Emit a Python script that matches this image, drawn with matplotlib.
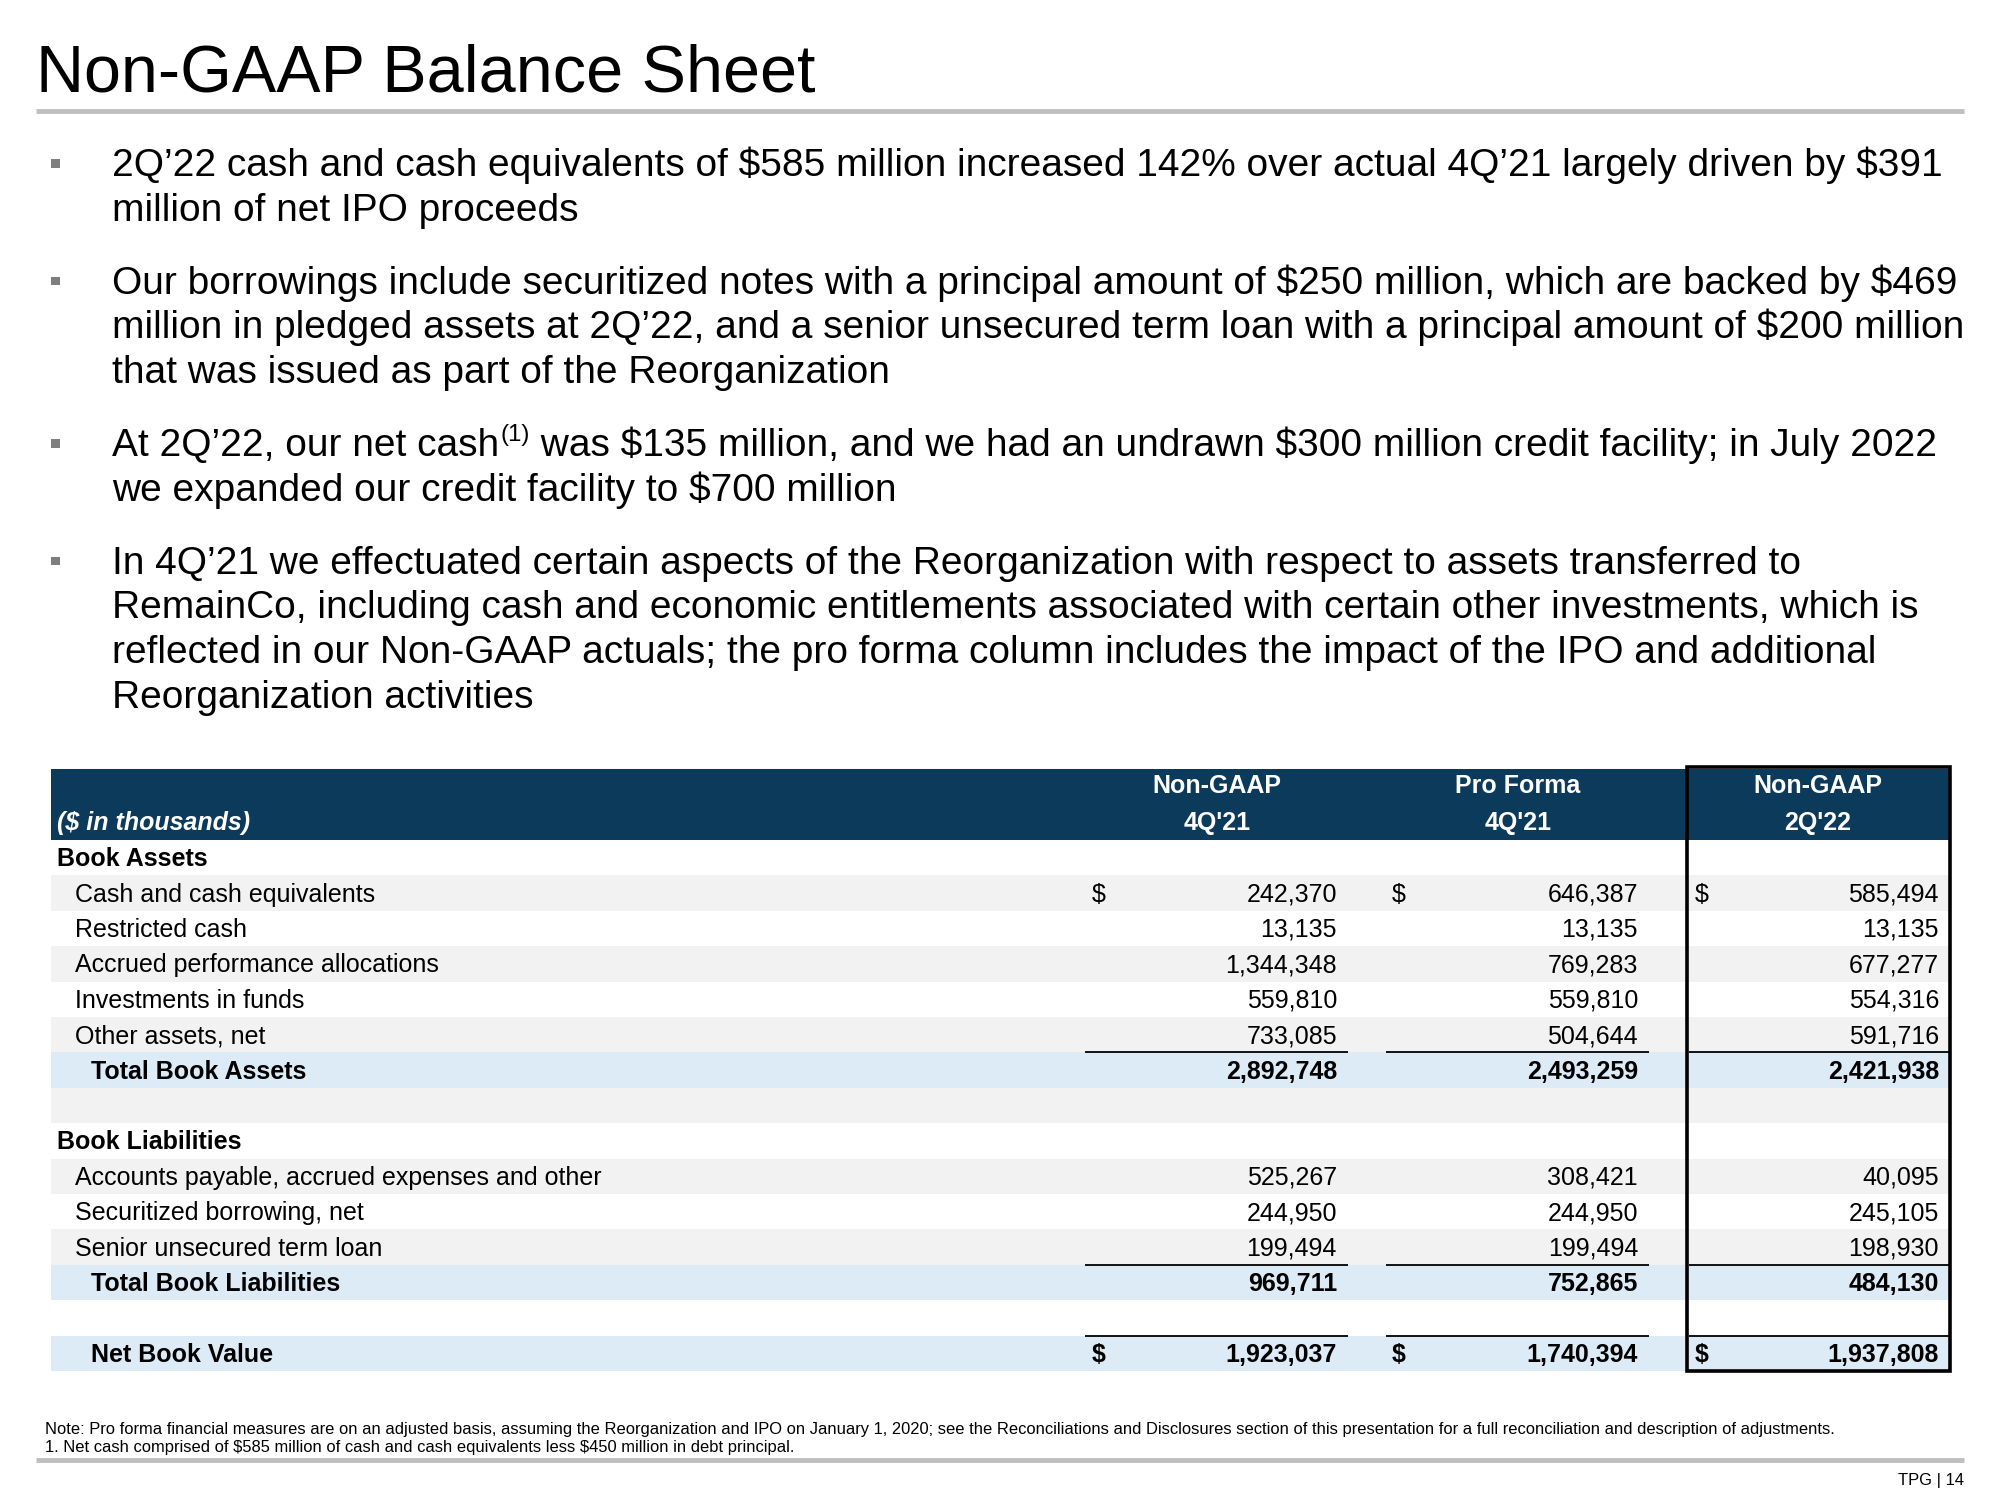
import matplotlib
matplotlib.use("Agg")
import matplotlib.pyplot as plt
from matplotlib.patches import Rectangle

plt.rcParams['font.family'] = ['Liberation Sans', 'DejaVu Sans']
plt.rcParams['text.parse_math'] = False

# ---------------- data ----------------
title = "Non-GAAP Balance Sheet"
bullets = [
    ["2Q\u201922 cash and cash equivalents of $585 million increased 142% over actual 4Q\u201921 largely driven by $391",
     "million of net IPO proceeds"],
    ["Our borrowings include securitized notes with a principal amount of $250 million, which are backed by $469",
     "million in pledged assets at 2Q\u201922, and a senior unsecured term loan with a principal amount of $200 million",
     "that was issued as part of the Reorganization"],
    ["At 2Q\u201922, our net cash|(1)| was $135 million, and we had an undrawn $300 million credit facility; in July 2022",
     "we expanded our credit facility to $700 million"],
    ["In 4Q\u201921 we effectuated certain aspects of the Reorganization with respect to assets transferred to",
     "RemainCo, including cash and economic entitlements associated with certain other investments, which is",
     "reflected in our Non-GAAP actuals; the pro forma column includes the impact of the IPO and additional",
     "Reorganization activities"],
]
col_headers = [("Non-GAAP", "4Q'21"), ("Pro Forma", "4Q'21"), ("Non-GAAP", "2Q'22")]
units_label = "($ in thousands)"
row_labels = ["Book Assets", "Cash and cash equivalents", "Restricted cash",
              "Accrued performance allocations", "Investments in funds", "Other assets, net",
              "Total Book Assets", "", "Book Liabilities",
              "Accounts payable, accrued expenses and other", "Securitized borrowing, net",
              "Senior unsecured term loan", "Total Book Liabilities", "", "Net Book Value"]
row_kinds = ["section", "item", "item", "item", "item", "item", "total", "blank",
             "section", "item", "item", "item", "total", "blank", "total"]
nongaap_4q21 = [None, 242370, 13135, 1344348, 559810, 733085, 2892748, None,
                None, 525267, 244950, 199494, 969711, None, 1923037]
proforma_4q21 = [None, 646387, 13135, 769283, 559810, 504644, 2493259, None,
                 None, 308421, 244950, 199494, 752865, None, 1740394]
nongaap_2q22 = [None, 585494, 13135, 677277, 554316, 591716, 2421938, None,
                None, 40095, 245105, 198930, 484130, None, 1937808]
dollar_rows = ["Cash and cash equivalents", "Net Book Value"]
note_lines = [
    "Note: Pro forma financial measures are on an adjusted basis, assuming the Reorganization and IPO on January 1, 2020; see the Reconciliations and Disclosures section of this presentation for a full reconciliation and description of adjustments.",
    "1. Net cash comprised of $585 million of cash and cash equivalents less $450 million in debt principal.",
]
page_label = "TPG | 14"

# ---------------- style ----------------
NAVY = "#0C3A5B"
GRAY_ROW = "#F2F2F2"
BLUE_ROW = "#DDEBF7"
RULE = "#BFBFBF"
# background band of each table row (white / gray / blue)
row_fills = ["white", GRAY_ROW, "white", GRAY_ROW, "white", GRAY_ROW, BLUE_ROW, GRAY_ROW,
             "white", GRAY_ROW, "white", GRAY_ROW, BLUE_ROW, "white", BLUE_ROW]

fig = plt.figure(figsize=(20, 15), dpi=100)
ax = fig.add_axes([0, 0, 1, 1])
ax.set_xlim(0, 2000)
ax.set_ylim(1500, 0)
ax.axis("off")
renderer = fig.canvas.get_renderer()

# title + rule
ax.text(36, 92, title, fontsize=47.9, color="black", va="baseline", ha="left")
ax.plot([36, 1964], [110.5, 110.5], color=RULE, lw=3.5, solid_capstyle="butt")

# bullets
bullet_fs = 28
line_gap = 44.8
para_gap = 28
y = 176
for para in bullets:
    ax.add_patch(Rectangle((51, y - 17), 8.5, 8.5, color="#7F7F7F", lw=0))
    for line in para:
        if "|" in line:
            parts = line.split("|")
            x = 112
            t = ax.text(x, y, parts[0], fontsize=bullet_fs, va="baseline", ha="left")
            x = ax.transData.inverted().transform(
                (t.get_window_extent(renderer).x1, 0))[0]
            t = ax.text(x + 1, y - 15, parts[1], fontsize=bullet_fs * 0.62, va="baseline", ha="left")
            x = ax.transData.inverted().transform(
                (t.get_window_extent(renderer).x1, 0))[0]
            ax.text(x, y, parts[2], fontsize=bullet_fs, va="baseline", ha="left")
        else:
            ax.text(112, y, line, fontsize=bullet_fs, va="baseline", ha="left")
        y += line_gap
    y += para_gap

# table geometry
tx0, tx1 = 51, 1949
hdr_top, hdr_bot = 769, 840
row_h = 35.4
fs = 18
col_right = [1337, 1638, 1939]
col_dollar = [1092, 1392, 1695]
col_center = [1217, 1518, 1818]
col_line = [(1085, 1348), (1386, 1649), (1689, 1949)]
columns = [nongaap_4q21, proforma_4q21, nongaap_2q22]

ax.add_patch(Rectangle((tx0, hdr_top), tx1 - tx0, hdr_bot - hdr_top, color=NAVY, lw=0))
for (h1, h2), cx in zip(col_headers, col_center):
    ax.text(cx, 793, h1, fontsize=fs, color="white", weight="bold", ha="center", va="baseline")
    ax.text(cx, 830, h2, fontsize=fs, color="white", weight="bold", ha="center", va="baseline")
ax.text(57, 830, units_label, fontsize=fs, color="white", weight="bold", style="italic",
        ha="left", va="baseline")

for i, (lab, kind, fill) in enumerate(zip(row_labels, row_kinds, row_fills)):
    top = hdr_bot + i * row_h
    base = top + row_h / 2 + 8.5
    if fill != "white":
        ax.add_patch(Rectangle((tx0, top), tx1 - tx0, row_h, color=fill, lw=0))
    if kind == "section":
        ax.text(57, base, lab, fontsize=fs, weight="bold", ha="left", va="baseline")
    elif kind == "item":
        ax.text(75, base, lab, fontsize=fs, ha="left", va="baseline")
    elif kind == "total":
        ax.text(91, base, lab, fontsize=fs, weight="bold", ha="left", va="baseline")
        for (l0, l1) in col_line:
            ax.plot([l0, l1], [top, top], color="black", lw=1.3, solid_capstyle="butt")
    wt = "bold" if kind == "total" else "normal"
    for c, vals in enumerate(columns):
        v = vals[i]
        if v is None:
            continue
        ax.text(col_right[c], base, f"{v:,}", fontsize=fs, weight=wt, ha="right", va="baseline")
        if lab in dollar_rows:
            ax.text(col_dollar[c], base, "$", fontsize=fs, weight=wt, ha="left", va="baseline")

# highlight box around last column
tab_bot = hdr_bot + len(row_labels) * row_h
ax.add_patch(Rectangle((1687, 767), 1950 - 1687, tab_bot - 767, fill=False,
                       edgecolor="black", lw=2.6, joinstyle="miter"))

# notes
ax.text(45, 1434, note_lines[0], fontsize=11.9, ha="left", va="baseline")
ax.text(45, 1452, note_lines[1], fontsize=11.9, ha="left", va="baseline")
ax.plot([36, 1964], [1460, 1460], color=RULE, lw=3.5, solid_capstyle="butt")
ax.text(1964, 1485, page_label, fontsize=11.9, ha="right", va="baseline")

fig.savefig("out.png", dpi=100)
